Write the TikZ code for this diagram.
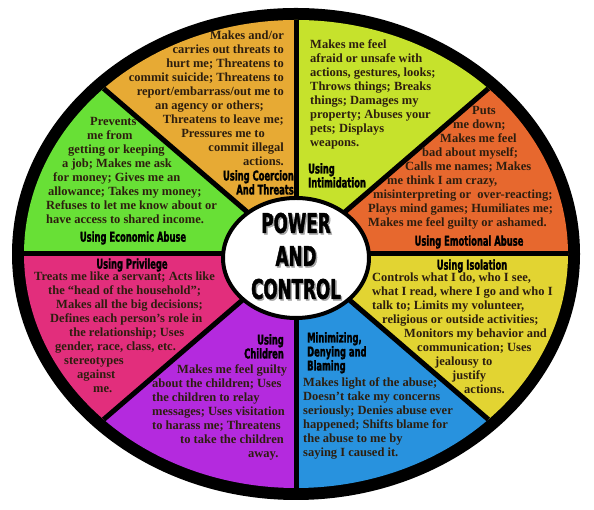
\documentclass[tikz,border=0pt]{standalone}
\usepackage{fontspec}
\setmainfont{Liberation Serif}
\newfontfamily\headfont[FakeStretch=0.62, FakeBold=1.6]{DejaVu Sans}
\definecolor{ink}{RGB}{45,30,15}
\definecolor{emotional}{RGB}{231,104,46}
\definecolor{intimidation}{RGB}{198,226,44}
\definecolor{coercion}{RGB}{231,170,52}
\definecolor{economic}{RGB}{104,224,54}
\definecolor{privilege}{RGB}{226,46,124}
\definecolor{children}{RGB}{180,42,222}
\definecolor{minimizing}{RGB}{40,146,222}
\definecolor{isolation}{RGB}{226,212,50}

\begin{document}
\begin{tikzpicture}[x=1pt, y=1pt,
  body/.style={inner sep=0pt, text=ink, font=\bfseries\fontsize{12.5}{14}\selectfont},
  head/.style={inner sep=0pt, text=black, font=\headfont\bfseries\fontsize{13.5}{14}\selectfont},
  title/.style={inner sep=0pt, align=center, font=\headfont\bfseries\fontsize{27}{33}\selectfont}]
  \useasboundingbox (0,0) rectangle (594,510);
  \coordinate (hub) at (296,256);
  \fill[black] (hub) ellipse [x radius=284, y radius=246];
  \foreach \col [count=\i from 0] in {emotional,intimidation,coercion,economic,privilege,children,minimizing,isolation}
    \fill[\col] (hub) -- ++(\i*45:272 and 234) arc[start angle=\i*45, end angle=\i*45+45, x radius=272, y radius=234] -- cycle;
  \foreach \a in {0,45,...,315}
    \draw[line width=5pt] (hub) -- ++(\a:272 and 234);
  \draw[line width=4pt, fill=white] (296,252) ellipse [x radius=73, y radius=60];
  \node[title, text=gray!70] at (297.5,252.5) {POWER\\AND\\CONTROL};
  \node[title] (core) at (296,254) {POWER\\AND\\CONTROL};

  \node[body, align=right, anchor=north east] (coercion-text) at (284,479) {Makes and/or\\ carries out threats to\\ hurt me; Threatens to\\ commit suicide; Threatens to\\ report/embarrass/out me to\\ an agency or others;\rule{20pt}{0pt}\\ Threatens to leave me;\\ Pressures me to\rule{19pt}{0pt}\\ commit illegal\\ actions.};
  \node[head, align=right, anchor=north east] (coercion-head) at (294,340) {Using Coercion\\ And Threats};

  \node[body, align=left, anchor=north west] (intimidation-text) at (310,470) {Makes me feel\\ afraid or unsafe with\\ actions, gestures, looks;\\ Throws things; Breaks\\ things; Damages my\\ property; Abuses your\\ pets; Displays\\ weapons.};
  \node[head, align=left, anchor=north west] (intimidation-head) at (308,347) {Using\\ Intimidation};

  \node[body, align=left, anchor=north west] (emotional-text) at (368,404) {\hspace*{104pt}Puts\\ \hspace*{85pt}me down;\\ \hspace*{72pt}Makes me feel\\ \hspace*{54pt}bad about myself;\\ \hspace*{37pt}Calls me names; Makes\\ \hspace*{19pt}me think I am crazy,\\ \hspace*{5pt}misinterpreting or \ over-reacting;\\ Plays mind games; Humiliates me;\\ Makes me feel guilty or ashamed.};
  \node[head] (emotional-head) at (469,268) {Using Emotional Abuse};

  \node[head] (isolation-head) at (472,244) {Using Isolation};
  \node[body, align=left, anchor=north west] (isolation-text) at (372,237) {Controls what I do, who I see,\\ what I read, where I go and who I\\ talk to; Limits my volunteer,\\ \hspace*{10pt}religious or outside activities;\\ \hspace*{32pt}Monitors my behavior and\\ \hspace*{45pt}communication; Uses\\ \hspace*{63pt}jealousy to\\ \hspace*{80pt}justify\\ \hspace*{92pt}actions.};

  \node[head, align=left, anchor=north west] (minimizing-head) at (307,178) {Minimizing,\\ Denying and\\ Blaming};
  \node[body, align=left, anchor=north west] (minimizing-text) at (303,132) {Makes light of the abuse;\\ Doesn’t take my concerns\\ seriously; Denies abuse ever\\ happened; Shifts blame for\\ the abuse to me by\\ saying I caused it.};

  \node[head, align=right, anchor=north east] (children-head) at (284,176) {Using\\ Children};
  \node[body, align=left, anchor=north west] (children-text) at (152,145) {\hspace*{25pt}Makes me feel guilty\\ about the children; Uses\\ the children to relay\\ messages; Uses visitation\\ to harass me; Threatens\\ \hspace*{28pt}to take the children\\ \hspace*{96pt}away.};

  \node[head] (privilege-head) at (132,245) {Using Privilege};
  \node[body, align=left, anchor=north west] (privilege-text) at (34,238) {Treats me like a servant; Acts like\\ \hspace*{14pt}the “head of the household”;\\ \hspace*{22pt}Makes all the big decisions;\\ \hspace*{16pt}Defines each person’s role in\\ \hspace*{35pt}the relationship; Uses\\ \hspace*{21pt}gender, race, class, etc.\\ \hspace*{30pt}stereotypes\\ \hspace*{43pt}against\\ \hspace*{59pt}me.};

  \node[body, align=left, anchor=north west] (economic-text) at (46,393) {\hspace*{44pt}Prevents\\ \hspace*{41pt}me from\\ \hspace*{22pt}getting or keeping\\ \hspace*{16pt}a job; Makes me ask\\ \hspace*{7pt}for money; Gives me an\\ \hspace*{2pt}allowance; Takes my money;\\ Refuses to let me know about or\\ have access to shared income.};
  \node[head] (economic-head) at (133,272) {Using Economic Abuse};
\end{tikzpicture}
\end{document}
